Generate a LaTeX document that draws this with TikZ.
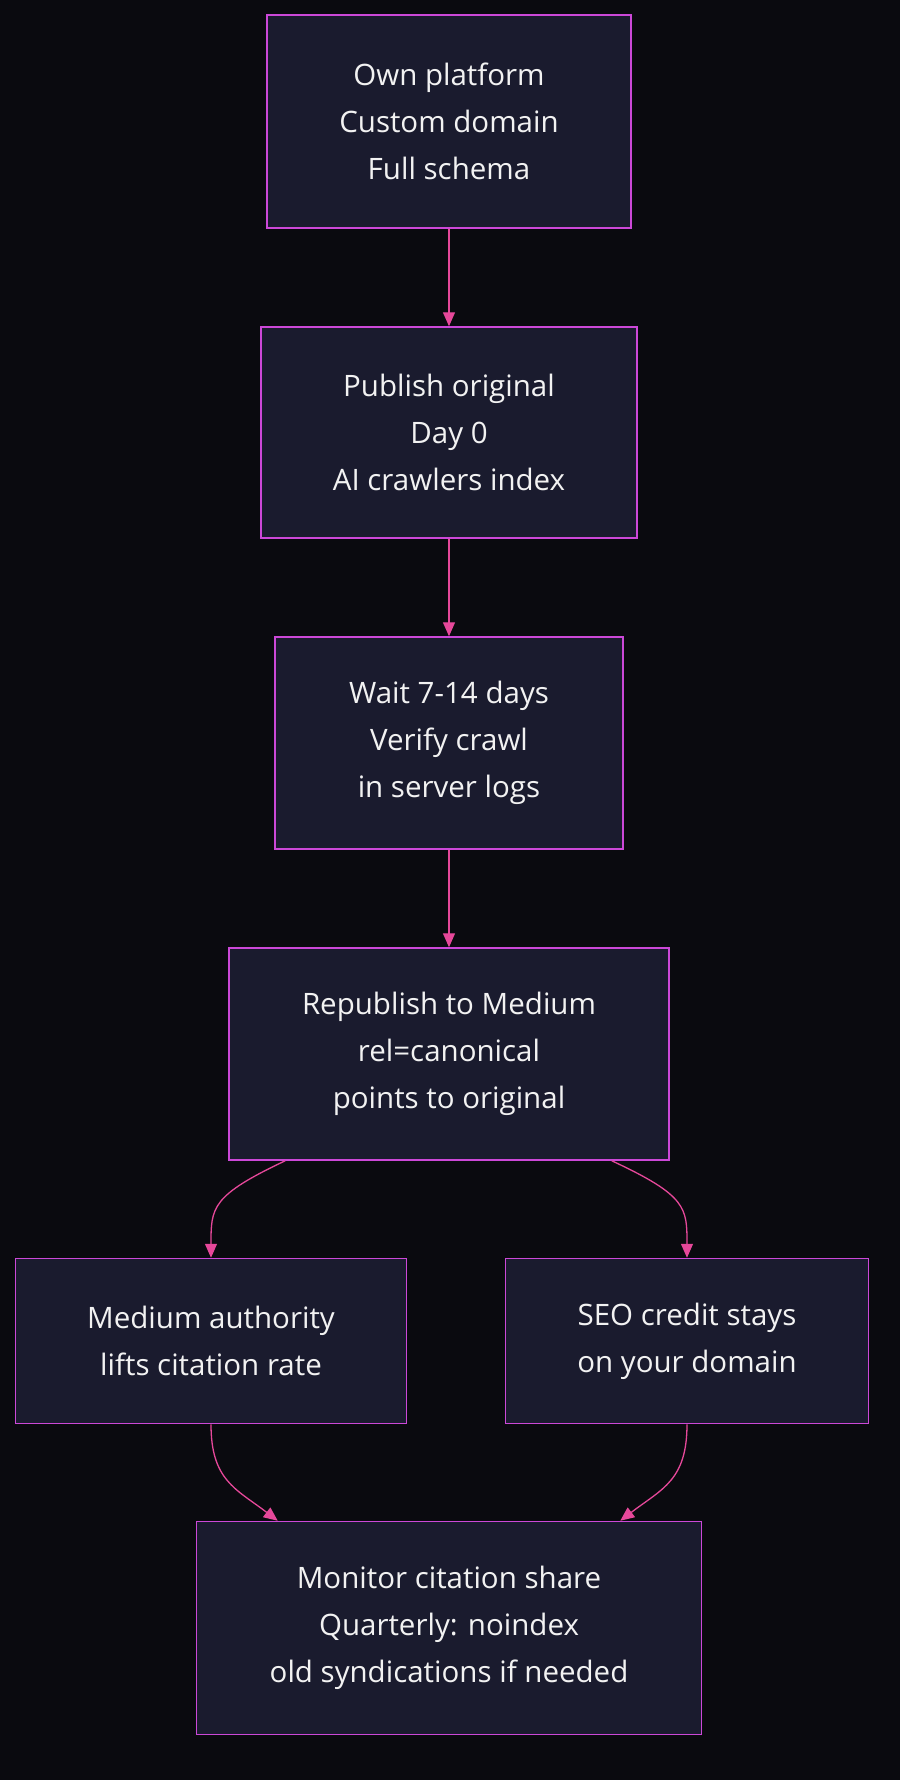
\documentclass[tikz,border=0pt]{standalone}
\usepackage{fontspec}
\setmainfont{Open Sans}
\usetikzlibrary{arrows.meta,calc}
\definecolor{bg}{HTML}{0A0A0F}
\definecolor{boxfill}{HTML}{1A1B2E}
\definecolor{boxline}{HTML}{CC48D8}
\definecolor{edgecol}{HTML}{E6489A}
\definecolor{txt}{HTML}{F2F2F2}
\begin{document}
\begin{tikzpicture}[x=1pt,y=-1pt,
  flowbox/.style={draw=boxline,fill=boxfill,line width=1.5pt,align=center,text=txt,
    font=\fontsize{29.5}{47}\selectfont,inner sep=0pt},
  edge/.style={draw=edgecol,line width=1.3pt,-{Triangle[length=14pt,width=12pt]}}]
\fill[bg] (0,0) rectangle (900,1780);
\useasboundingbox (0,0) rectangle (900,1780);
\node[flowbox,minimum width=364pt,minimum height=213pt] (own) at (449,121.5) {Own platform\\Custom domain\\Full schema};
\node[flowbox,minimum width=376pt,minimum height=211pt] (pub) at (449,432.5) {Publish original\\Day 0\\AI crawlers index};
\node[flowbox,minimum width=348pt,minimum height=212pt] (wait) at (449,743) {Wait 7-14 days\\Verify crawl\\in server logs};
\node[flowbox,minimum width=440pt,minimum height=212pt] (rep) at (449,1054) {Republish to Medium\\rel=canonical\\points to original};
\node[flowbox,minimum width=391pt,minimum height=165pt] (auth) at (211,1341) {Medium authority\\lifts citation rate};
\node[flowbox,minimum width=363pt,minimum height=165pt] (seo) at (687,1341) {SEO credit stays\\on your domain};
\node[flowbox,minimum width=505pt,minimum height=213pt] (mon) at (449,1628) {Monitor citation share\\Quarterly: noindex\\old syndications if needed};
\draw[edge] (own) -- (pub);
\draw[edge] (pub) -- (wait);
\draw[edge] (wait) -- (rep);
\draw[edge] ([xshift=57pt]rep.south west) .. controls ($(auth.north)+(0,-62)$) and ($(auth.north)+(0,-50)$) .. (auth.north);
\draw[edge] ([xshift=-58pt]rep.south east) .. controls ($(seo.north)+(0,-62)$) and ($(seo.north)+(0,-50)$) .. (seo.north);
\draw[edge] (auth.south) .. controls ($(auth.south)+(0,56)$) and ($(mon.north west)+(40,-32)$) .. ([xshift=82pt]mon.north west);
\draw[edge] (seo.south) .. controls ($(seo.south)+(0,56)$) and ($(mon.north east)+(-40,-32)$) .. ([xshift=-82pt]mon.north east);
\end{tikzpicture}
\end{document}
